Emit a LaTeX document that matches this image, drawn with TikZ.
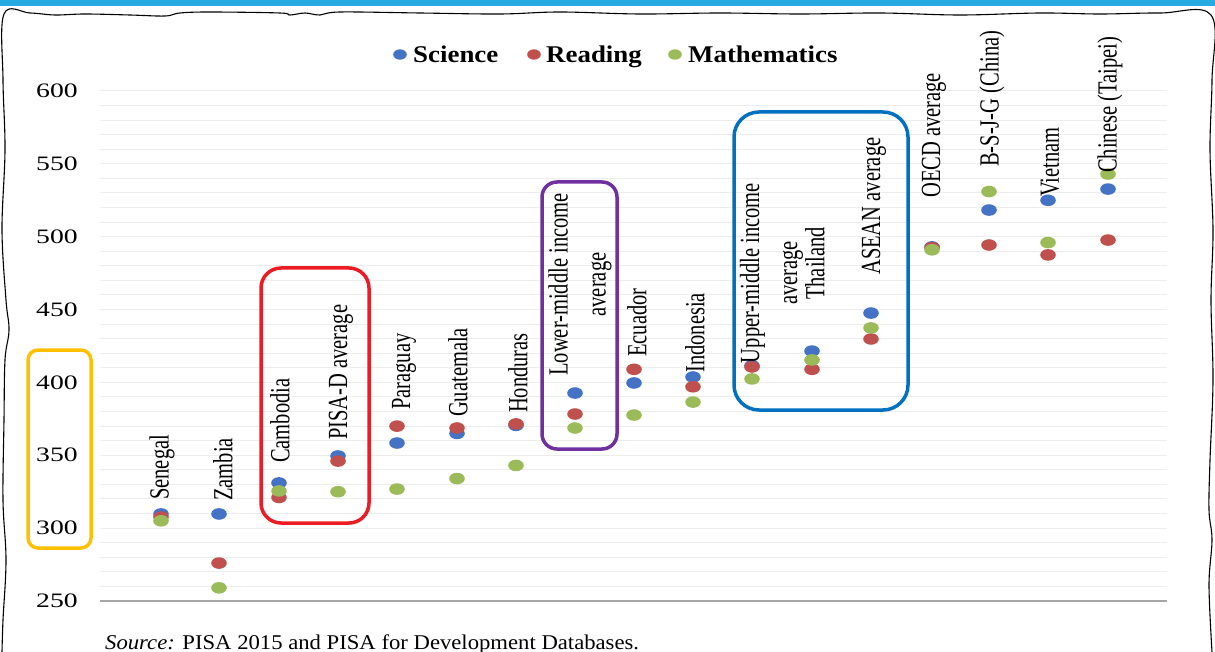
\documentclass[tikz,border=0pt]{standalone}
\usepackage{fontspec}
\setmainfont{Liberation Serif}
\usetikzlibrary{positioning}
\definecolor{scicol}{RGB}{68,114,196}
\definecolor{reacol}{RGB}{192,80,77}
\definecolor{matcol}{RGB}{155,187,89}
\definecolor{barcol}{RGB}{39,170,225}
\definecolor{orgcol}{RGB}{255,192,0}
\definecolor{redcol}{RGB}{237,28,36}
\definecolor{purcol}{RGB}{112,48,160}
\definecolor{blucol}{RGB}{0,112,192}

\begin{document}
\begin{tikzpicture}[x=1pt, y=-1pt,
        lab/.style={font=\fontsize{20.5}{28}\selectfont, inner sep=0pt, xscale=1.35, rotate=90, anchor=west},
        tick/.style={font=\fontsize{20.5}{22}\selectfont, inner sep=0pt, xscale=1.35},
        leg/.style={font=\bfseries\fontsize{24}{26}\selectfont, inner sep=0pt, xscale=1.12, anchor=base west},
        hl/.style={line width=3.5pt, rounded corners=#1},
        dot/.style={x radius=7.8pt, y radius=5.8pt}]
    \useasboundingbox (0, 0) rectangle (1215, 652);
    \fill [white] (0, 0) rectangle (1215, 652);
    \fill [barcol] (0, 0) rectangle (1215, 6);
    % hand-drawn frame
    \draw [line width=1.1pt] plot [smooth, tension=0.6] coordinates {
        (2, 652) (3, 620) (6, 560) (3, 500) (4, 420) (5, 360) (9, 330) (6, 300)
        (2, 230) (5, 150) (3, 80) (4, 14) (30, 13) (55, 15) (85, 14) (130, 15)
        (165, 16) (180, 13) (210, 12) (280, 13) (290, 15) (305, 13) (320, 15)
        (340, 12) (420, 13) (500, 14) (560, 12) (640, 14) (720, 13) (800, 14)
        (880, 13) (960, 15) (1040, 13) (1100, 14) (1160, 13) (1211, 15)
        (1212, 80) (1210, 150) (1213, 230) (1211, 300) (1213, 380) (1210, 460)
        (1209, 510) (1212, 540) (1209, 585) (1212, 652)};

    \begin{scope}[y=1.457pt, yshift=-965.2pt]
        \foreach \v in {260, 270, ..., 600}
            \draw [black!7, line width=1pt] (100, \v) -- (1167, \v);
        \draw [black!35, line width=2.5pt] (100, 250) -- (1167, 250);
        \foreach \v in {250, 300, ..., 600}
            \node [tick] (tick\v) at (57, \v) {\v};
        % science / reading / mathematics
        \foreach \x/\s/\r/\m in {161/309.7/307.6/305, 219/309.7/276/259,
                279/331/321/325.5, 338/349.5/346/325, 397/358.4/370/326.8,
                457/365/368.7/334, 516/370.5/371.5/343, 575/392.7/378.3/368.7,
                634/399.6/409/377.6, 693/403.7/397/386.5, 752/411.5/410.6/402.4,
                812/421.5/409/415.4, 871/447.6/429.8/437.4, 932/493/492.5/491,
                989/518.3/494.3/531, 1048/525/487.5/496, 1108/532.7/497.7/543} {
            \fill [scicol] (\x, \s) ellipse [dot];
            \fill [reacol] (\x, \r) ellipse [dot];
            \fill [matcol] (\x, \m) ellipse [dot];
        }
    \end{scope}

    % legend
    \fill [scicol] (400, 54.5) ellipse [x radius=6.8pt, y radius=5.2pt];
    \node [leg] (lsci) at (413, 63) {Science};
    \fill [reacol] (534, 54.5) ellipse [x radius=6.8pt, y radius=5.2pt];
    \node [leg] (lrea) at (546, 63) {Reading};
    \fill [matcol] (675, 54.5) ellipse [x radius=6.8pt, y radius=5.2pt];
    \node [leg] (lmat) at (688, 63) {Mathematics};

    % categories
    \node [lab] (senegal) at (162, 500) {Senegal};
    \node [lab] (zambia) at (223, 501) {Zambia};
    \node [lab] (cambodia) at (280, 463) {Cambodia};
    \node [lab] (pisad) at (341, 440) {PISA-D average};
    \node [lab] (paraguay) at (404, 410) {Paraguay};
    \node [lab] (guatemala) at (458, 417) {Guatemala};
    \node [lab] (honduras) at (518, 413) {Honduras};
    \node [lab, anchor=center, align=center] (lowmid) at (580, 284.5) {Lower-middle income\\average};
    \node [lab] (ecuador) at (637, 357) {Ecuador};
    \node [lab] (indonesia) at (695, 373) {Indonesia};
    \node [lab, anchor=center, align=center] (upmid) at (771.5, 273) {Upper-middle income\\average};
    \node [lab] (thailand) at (815, 300) {Thailand};
    \node [lab] (asean) at (874, 275) {ASEAN average};
    \node [lab] (oecd) at (934, 198) {OECD average};
    \node [lab] (bsjg) at (992, 167) {B-S-J-G (China)};
    \node [lab] (vietnam) at (1050, 197) {Vietnam};
    \node [lab] (taipei) at (1110, 173) {Chinese (Taipei)};

    % highlight boxes
    \draw [orgcol, hl=10pt] (28, 350) rectangle (91, 548);
    \draw [redcol, hl=20pt] (261, 268) rectangle (369, 523);
    \draw [purcol, hl=15pt] (542, 182) rectangle (617, 449);
    \draw [blucol, hl=25pt] (734, 112) rectangle (908, 410);

    \node [font=\fontsize{21}{23}\selectfont, inner sep=0pt, xscale=1.08, anchor=base west] (source)
        at (105, 649) {\textit{Source:} PISA 2015 and PISA for Development Databases.};
\end{tikzpicture}
\end{document}
